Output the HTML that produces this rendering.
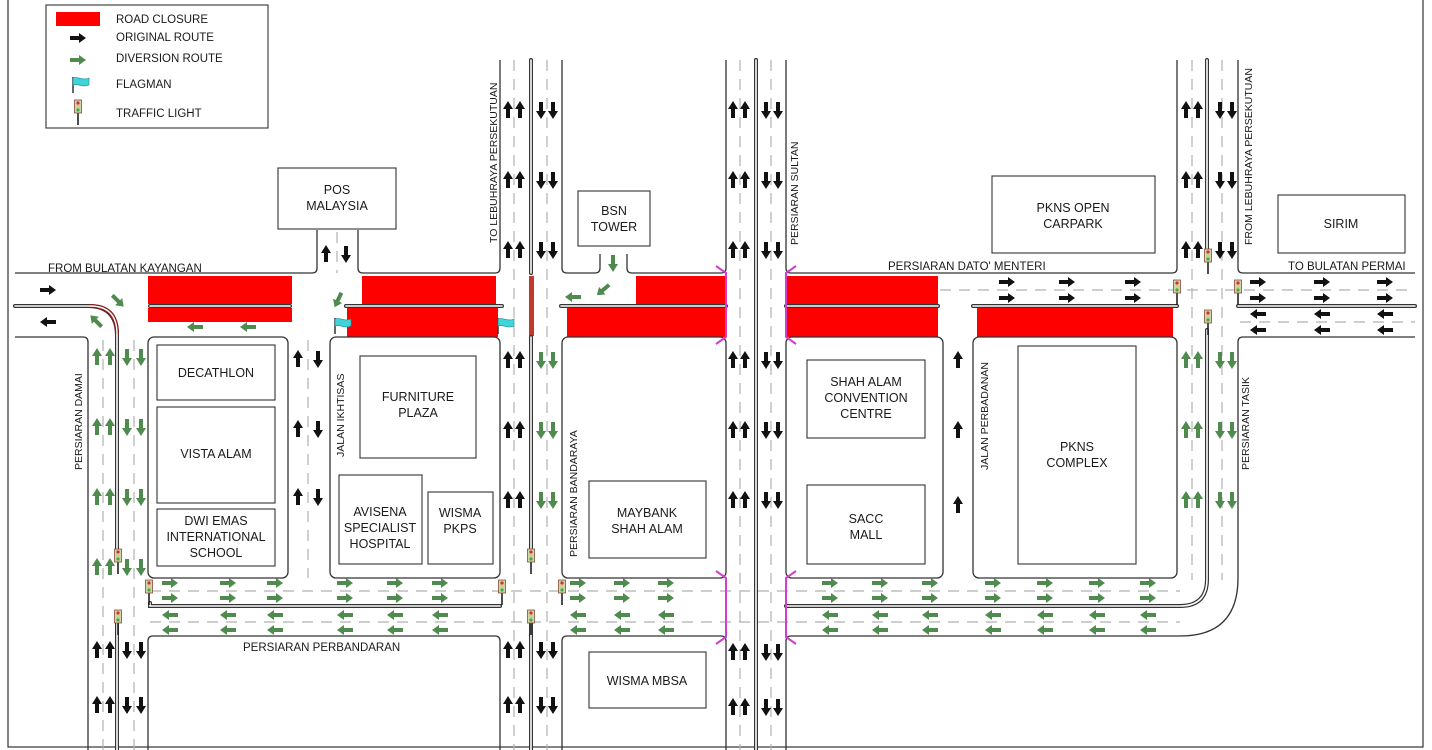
<!DOCTYPE html>
<html><head><meta charset="utf-8"><style>
html,body{margin:0;padding:0;background:#fff;}
svg{display:block;}
text{font-family:"Liberation Sans",Arial,sans-serif;fill:#1a1a1a;}
.t{font-size:12.5px;text-anchor:middle;}
.l{font-size:11.5px;}
.v{font-size:10.5px;}
.e{fill:none;stroke:#333;stroke-width:1.3;}
.d{fill:none;stroke:#b0b0b0;stroke-width:1.2;stroke-dasharray:11 8;}
.m1{fill:none;stroke:#333;stroke-width:4;stroke-linecap:round;}
.m2{fill:none;stroke:#fff;stroke-width:1.6;stroke-linecap:round;}
.b{fill:#fff;stroke:#333;stroke-width:1.1;}
.r{fill:#f00;}
.g use{fill:#4f8a4f;}
.k use{fill:#111;}
.mg{fill:none;stroke:#d23cd2;stroke-width:2;}
</style></head><body>
<svg width="1432" height="750" viewBox="0 0 1432 750" xmlns="http://www.w3.org/2000/svg">
<defs>
<path id="R" d="M-8,-2H1V-5L8,0L1,5V2H-8Z"/>
<path id="L" d="M8,-2H-1V-5L-8,0L-1,5V2H8Z"/>
<path id="U" d="M-2,8V-1H-5L0,-9L5,-1H2V8Z"/>
<path id="D" d="M-2,-8V1H-5L0,9L5,1H2V-8Z"/>
<g id="TL"><line x1="0" y1="12" x2="0" y2="24" stroke="#222" stroke-width="1.6"/><rect x="-3.5" y="-1" width="7" height="13" fill="#cfd6a8" stroke="#8a4a3a" stroke-width="0.8"/><circle cx="0" cy="2" r="1.6" fill="#c33"/><circle cx="0" cy="5.5" r="1.6" fill="#cc9"/><circle cx="0" cy="9" r="1.6" fill="#4a4"/></g>
<g id="FL"><line x1="0" y1="0" x2="0" y2="16" stroke="#333" stroke-width="1.5"/><path d="M0,1 C5,-1 9,4 16,1 L16,8 C9,11 5,6 0,8Z" fill="#3fd4d8" stroke="#1a8a9a" stroke-width="0.6"/></g>
</defs>
<rect x="8" y="-2" width="1415" height="749" fill="none" stroke="#333" stroke-width="1.2"/>

<rect class="r" x="148" y="276" width="144" height="28"/>
<rect class="r" x="148" y="308" width="144" height="14"/>
<rect class="r" x="362" y="276" width="134" height="28"/>
<rect class="r" x="347" y="308" width="151" height="29"/>
<rect x="529" y="276" width="5" height="60" fill="#c0392b"/>
<rect class="r" x="636" y="276" width="90" height="28"/>
<rect class="r" x="567" y="308" width="159" height="29"/>
<rect class="r" x="786" y="276" width="152" height="28"/>
<rect class="r" x="786" y="308" width="152" height="29"/>
<rect class="r" x="977" y="308" width="196" height="29"/>

<g class="d">
<line x1="940" y1="290" x2="1415" y2="290"/><line x1="1240" y1="322" x2="1415" y2="322"/>
<line x1="150" y1="591" x2="1180" y2="591"/><line x1="150" y1="622" x2="1180" y2="622"/>
<line x1="103" y1="340" x2="103" y2="750"/><line x1="134" y1="340" x2="134" y2="750"/>
<line x1="308" y1="340" x2="308" y2="578"/><line x1="337" y1="232" x2="337" y2="273"/>
<line x1="514" y1="60" x2="514" y2="750"/><line x1="547" y1="60" x2="547" y2="750"/>
<line x1="740" y1="60" x2="740" y2="750"/><line x1="771" y1="60" x2="771" y2="750"/>
<line x1="1192" y1="60" x2="1192" y2="580"/><line x1="1222" y1="60" x2="1222" y2="580"/>
</g>

<g class="e">
<path d="M15,273H312Q317,273 317,268V230"/>
<path d="M358,230V268Q358,273 363,273H495Q500,273 500,268V60"/>
<path d="M562,60V268Q562,273 567,273H595Q600,273 600,268V254"/>
<path d="M627,254V268Q627,273 632,273H721Q726,273 726,268V60"/>
<path d="M786,60V268Q786,273 791,273H1172Q1177,273 1177,268V60"/>
<path d="M1238,60V268Q1238,273 1243,273H1415"/>
<path d="M15,337H83Q88,337 88,342V750"/>
<path d="M1415,337H1243Q1238,337 1238,342V578Q1238,636 1180,636H791Q786,636 786,641V750"/>
<rect x="148" y="337" width="140" height="241" rx="6"/>
<rect x="330" y="337" width="170" height="241" rx="6"/>
<rect x="562" y="337" width="164" height="241" rx="6"/>
<rect x="786" y="337" width="157" height="241" rx="6"/>
<rect x="973" y="337" width="204" height="241" rx="6"/>
<path d="M148,750V641Q148,636 153,636H495Q500,636 500,641V750"/>
<path d="M562,750V641Q562,636 567,636H721Q726,636 726,641V750"/>
</g>

<g>
<path class="m1" d="M15,306H88Q117,306 117,336V560"/>
<path class="m2" d="M15,306H88Q117,306 117,336V560"/>
<path d="M90,306Q117,306 117,334" fill="none" stroke="#8b1a1a" stroke-width="4"/>
<path d="M90,306Q117,306 117,334" fill="none" stroke="#fff" stroke-width="1.4"/>
<path class="m1" d="M117,620V750"/><path class="m2" d="M117,620V750"/>
<path class="m1" d="M150,306H290M346,306H502M561,306H726M786,306H938M973,306H1177M1238,306H1415"/>
<path class="m2" d="M150,306H290M346,306H502M561,306H726M786,306H938M973,306H1177M1238,306H1415"/>
<path class="m1" d="M531,60V273M531,337V560M531,620V750M756,60V750M1207,60V255M1207,330V579Q1207,606 1180,606H786M150,603V606H500"/>
<path class="m2" d="M531,60V273M531,337V560M531,620V750M756,60V750M1207,60V255M1207,330V579Q1207,606 1180,606H786M150,603V606H500"/>
</g>

<g class="mg">
<path d="M716,266L726,273V337L716,344"/><path d="M796,266L786,273V337L796,344"/>
<path d="M716,571L726,578V637L716,644"/><path d="M796,571L786,578V637L796,644"/>
</g>

<g class="b">
<rect x="278" y="168" width="118" height="61"/>
<rect x="578" y="191" width="72" height="55"/>
<rect x="992" y="176" width="163" height="77"/>
<rect x="1278" y="195" width="127" height="58"/>
<rect x="157" y="345" width="118" height="55"/>
<rect x="157" y="407" width="118" height="96"/>
<rect x="157" y="509" width="118" height="57"/>
<rect x="360" y="356" width="116" height="102"/>
<rect x="339" y="475" width="83" height="89"/>
<rect x="428" y="492" width="65" height="72"/>
<rect x="589" y="481" width="117" height="77"/>
<rect x="807" y="360" width="118" height="78"/>
<rect x="807" y="485" width="118" height="79"/>
<rect x="1018" y="346" width="118" height="218"/>
<rect x="589" y="652" width="117" height="56"/>
</g>
<g>
<text class="t" x="337" y="194">POS</text><text class="t" x="337" y="210">MALAYSIA</text>
<text class="t" x="614" y="215">BSN</text><text class="t" x="614" y="231">TOWER</text>
<text class="t" x="1073" y="212">PKNS OPEN</text><text class="t" x="1073" y="228">CARPARK</text>
<text class="t" x="1341" y="228">SIRIM</text>
<text class="t" x="216" y="377">DECATHLON</text>
<text class="t" x="216" y="458">VISTA ALAM</text>
<text class="t" x="216" y="525">DWI EMAS</text><text class="t" x="216" y="541">INTERNATIONAL</text><text class="t" x="216" y="557">SCHOOL</text>
<text class="t" x="418" y="401">FURNITURE</text><text class="t" x="418" y="417">PLAZA</text>
<text class="t" x="380" y="516">AVISENA</text><text class="t" x="380" y="532">SPECIALIST</text><text class="t" x="380" y="548">HOSPITAL</text>
<text class="t" x="460" y="517">WISMA</text><text class="t" x="460" y="533">PKPS</text>
<text class="t" x="647" y="517">MAYBANK</text><text class="t" x="647" y="533">SHAH ALAM</text>
<text class="t" x="866" y="386">SHAH ALAM</text><text class="t" x="866" y="402">CONVENTION</text><text class="t" x="866" y="418">CENTRE</text>
<text class="t" x="866" y="523">SACC</text><text class="t" x="866" y="539">MALL</text>
<text class="t" x="1077" y="451">PKNS</text><text class="t" x="1077" y="467">COMPLEX</text>
<text class="t" x="647" y="685">WISMA MBSA</text>
<text class="l" x="48" y="272">FROM BULATAN KAYANGAN</text>
<text class="l" x="888" y="270">PERSIARAN DATO' MENTERI</text>
<text class="l" x="1288" y="270">TO BULATAN PERMAI</text>
<text class="l" x="243" y="651">PERSIARAN PERBANDARAN</text>
<text class="v" transform="translate(82,470) rotate(-90)">PERSIARAN DAMAI</text>
<text class="v" transform="translate(344,457) rotate(-90)">JALAN IKHTISAS</text>
<text class="v" transform="translate(497,243) rotate(-90)">TO LEBUHRAYA PERSEKUTUAN</text>
<text class="v" transform="translate(798,245) rotate(-90)">PERSIARAN SULTAN</text>
<text class="v" transform="translate(577,557) rotate(-90)">PERSIARAN BANDARAYA</text>
<text class="v" transform="translate(988,470) rotate(-90)">JALAN PERBADANAN</text>
<text class="v" transform="translate(1252,245) rotate(-90)">FROM LEBUHRAYA PERSEKUTUAN</text>
<text class="v" transform="translate(1249,470) rotate(-90)">PERSIARAN TASIK</text>
</g>

<g class="k">
<use href="#R" x="48" y="290"/><use href="#L" x="48" y="322"/>
<use href="#R" x="1007" y="282"/><use href="#R" x="1067" y="282"/><use href="#R" x="1133" y="282"/>
<use href="#R" x="1007" y="298"/><use href="#R" x="1067" y="298"/><use href="#R" x="1133" y="298"/>
<use href="#R" x="1258" y="282"/><use href="#R" x="1322" y="282"/><use href="#R" x="1385" y="282"/>
<use href="#R" x="1258" y="298"/><use href="#R" x="1322" y="298"/><use href="#R" x="1385" y="298"/>
<use href="#L" x="1258" y="314"/><use href="#L" x="1322" y="314"/><use href="#L" x="1385" y="314"/>
<use href="#L" x="1258" y="330"/><use href="#L" x="1322" y="330"/><use href="#L" x="1385" y="330"/>
<use href="#U" x="97" y="650"/><use href="#U" x="110" y="650"/><use href="#D" x="127" y="650"/><use href="#D" x="141" y="650"/>
<use href="#U" x="97" y="705"/><use href="#U" x="110" y="705"/><use href="#D" x="127" y="705"/><use href="#D" x="141" y="705"/>
<use href="#U" x="298" y="359"/><use href="#D" x="318" y="359"/><use href="#U" x="298" y="429"/><use href="#D" x="318" y="429"/><use href="#U" x="298" y="497"/><use href="#D" x="318" y="497"/>
<use href="#U" x="326" y="254"/><use href="#D" x="346" y="254"/>
<use href="#U" x="508" y="110"/><use href="#U" x="520" y="110"/><use href="#D" x="541" y="110"/><use href="#D" x="553" y="110"/>
<use href="#U" x="508" y="180"/><use href="#U" x="520" y="180"/><use href="#D" x="541" y="180"/><use href="#D" x="553" y="180"/>
<use href="#U" x="508" y="250"/><use href="#U" x="520" y="250"/><use href="#D" x="541" y="250"/><use href="#D" x="553" y="250"/>
<use href="#U" x="508" y="360"/><use href="#U" x="520" y="360"/><use href="#U" x="508" y="430"/><use href="#U" x="520" y="430"/><use href="#U" x="508" y="500"/><use href="#U" x="520" y="500"/>
<use href="#U" x="508" y="650"/><use href="#U" x="520" y="650"/><use href="#D" x="541" y="650"/><use href="#D" x="553" y="650"/>
<use href="#U" x="508" y="705"/><use href="#U" x="520" y="705"/><use href="#D" x="541" y="705"/><use href="#D" x="553" y="705"/>
<use href="#U" x="733" y="110"/><use href="#U" x="745" y="110"/><use href="#D" x="766" y="110"/><use href="#D" x="778" y="110"/>
<use href="#U" x="733" y="180"/><use href="#U" x="745" y="180"/><use href="#D" x="766" y="180"/><use href="#D" x="778" y="180"/>
<use href="#U" x="733" y="250"/><use href="#U" x="745" y="250"/><use href="#D" x="766" y="250"/><use href="#D" x="778" y="250"/>
<use href="#U" x="733" y="360"/><use href="#U" x="745" y="360"/><use href="#D" x="766" y="360"/><use href="#D" x="778" y="360"/>
<use href="#U" x="733" y="430"/><use href="#U" x="745" y="430"/><use href="#D" x="766" y="430"/><use href="#D" x="778" y="430"/>
<use href="#U" x="733" y="500"/><use href="#U" x="745" y="500"/><use href="#D" x="766" y="500"/><use href="#D" x="778" y="500"/>
<use href="#U" x="733" y="652"/><use href="#U" x="745" y="652"/><use href="#D" x="766" y="652"/><use href="#D" x="778" y="652"/>
<use href="#U" x="733" y="707"/><use href="#U" x="745" y="707"/><use href="#D" x="766" y="707"/><use href="#D" x="778" y="707"/>
<use href="#U" x="958" y="360"/><use href="#U" x="958" y="430"/><use href="#U" x="958" y="505"/>
<use href="#U" x="1186" y="110"/><use href="#U" x="1198" y="110"/><use href="#D" x="1220" y="110"/><use href="#D" x="1232" y="110"/>
<use href="#U" x="1186" y="180"/><use href="#U" x="1198" y="180"/><use href="#D" x="1220" y="180"/><use href="#D" x="1232" y="180"/>
<use href="#U" x="1186" y="250"/><use href="#U" x="1198" y="250"/><use href="#D" x="1220" y="250"/><use href="#D" x="1232" y="250"/>
</g>

<g class="g">
<use href="#U" x="97" y="357"/><use href="#U" x="110" y="357"/><use href="#D" x="127" y="357"/><use href="#D" x="141" y="357"/>
<use href="#U" x="97" y="427"/><use href="#U" x="110" y="427"/><use href="#D" x="127" y="427"/><use href="#D" x="141" y="427"/>
<use href="#U" x="97" y="497"/><use href="#U" x="110" y="497"/><use href="#D" x="127" y="497"/><use href="#D" x="141" y="497"/>
<use href="#U" x="97" y="567"/><use href="#U" x="110" y="567"/><use href="#D" x="127" y="567"/><use href="#D" x="141" y="567"/>
<use href="#D" x="541" y="360"/><use href="#D" x="553" y="360"/><use href="#D" x="541" y="430"/><use href="#D" x="553" y="430"/><use href="#D" x="541" y="500"/><use href="#D" x="553" y="500"/>
<use href="#U" x="1186" y="360"/><use href="#U" x="1198" y="360"/><use href="#D" x="1220" y="360"/><use href="#D" x="1232" y="360"/>
<use href="#U" x="1186" y="430"/><use href="#U" x="1198" y="430"/><use href="#D" x="1220" y="430"/><use href="#D" x="1232" y="430"/>
<use href="#U" x="1186" y="500"/><use href="#U" x="1198" y="500"/><use href="#D" x="1220" y="500"/><use href="#D" x="1232" y="500"/>
<use href="#L" x="195" y="327"/><use href="#L" x="248" y="327"/>
<use href="#L" x="573" y="297"/><use href="#D" x="613" y="263"/>
<use href="#R" transform="translate(118,301) rotate(45)"/>
<use href="#R" transform="translate(96,321) rotate(-135)"/>
<use href="#R" transform="translate(338,300) rotate(115)"/>
<use href="#R" transform="translate(603,290) rotate(140)"/>
<use href="#R" x="170" y="583"/><use href="#R" x="228" y="583"/><use href="#R" x="275" y="583"/><use href="#R" x="345" y="583"/><use href="#R" x="395" y="583"/><use href="#R" x="440" y="583"/>
<use href="#R" x="170" y="598"/><use href="#R" x="228" y="598"/><use href="#R" x="275" y="598"/><use href="#R" x="345" y="598"/><use href="#R" x="395" y="598"/><use href="#R" x="440" y="598"/>
<use href="#L" x="170" y="615"/><use href="#L" x="228" y="615"/><use href="#L" x="275" y="615"/><use href="#L" x="345" y="615"/><use href="#L" x="395" y="615"/><use href="#L" x="440" y="615"/>
<use href="#L" x="170" y="630"/><use href="#L" x="228" y="630"/><use href="#L" x="275" y="630"/><use href="#L" x="345" y="630"/><use href="#L" x="395" y="630"/><use href="#L" x="440" y="630"/>
<use href="#R" x="578" y="583"/><use href="#R" x="622" y="583"/><use href="#R" x="666" y="583"/>
<use href="#R" x="578" y="598"/><use href="#R" x="622" y="598"/><use href="#R" x="666" y="598"/>
<use href="#L" x="578" y="615"/><use href="#L" x="622" y="615"/><use href="#L" x="666" y="615"/>
<use href="#L" x="578" y="630"/><use href="#L" x="622" y="630"/><use href="#L" x="666" y="630"/>
<use href="#R" x="830" y="583"/><use href="#R" x="880" y="583"/><use href="#R" x="930" y="583"/><use href="#R" x="993" y="583"/><use href="#R" x="1045" y="583"/><use href="#R" x="1097" y="583"/><use href="#R" x="1148" y="583"/>
<use href="#R" x="830" y="598"/><use href="#R" x="880" y="598"/><use href="#R" x="930" y="598"/><use href="#R" x="993" y="598"/><use href="#R" x="1045" y="598"/><use href="#R" x="1097" y="598"/><use href="#R" x="1148" y="598"/>
<use href="#L" x="830" y="615"/><use href="#L" x="880" y="615"/><use href="#L" x="930" y="615"/><use href="#L" x="993" y="615"/><use href="#L" x="1045" y="615"/><use href="#L" x="1097" y="615"/><use href="#L" x="1148" y="615"/>
<use href="#L" x="830" y="630"/><use href="#L" x="880" y="630"/><use href="#L" x="930" y="630"/><use href="#L" x="993" y="630"/><use href="#L" x="1045" y="630"/><use href="#L" x="1097" y="630"/><use href="#L" x="1148" y="630"/>
</g>

<use href="#TL" x="118" y="550"/>
<use href="#TL" x="149" y="581"/>
<use href="#TL" x="502" y="581"/>
<use href="#TL" x="531" y="550"/>
<use href="#TL" x="562" y="581"/>
<use href="#TL" x="531" y="611"/>
<use href="#TL" x="118" y="611"/>
<use href="#TL" x="1208" y="250"/>
<use href="#TL" x="1177" y="281"/>
<use href="#TL" x="1238" y="281"/>
<use href="#TL" x="1208" y="311"/>
<use href="#FL" x="335" y="318"/>
<use href="#FL" x="498" y="318"/>

<rect x="46" y="5" width="222" height="123" fill="#fff" stroke="#333" stroke-width="1.1"/>
<rect x="56" y="12" width="44" height="14" fill="#f00"/>
<g class="k"><use href="#R" x="78" y="38"/></g>
<g class="g"><use href="#R" x="78" y="60"/></g>
<use href="#FL" x="73" y="77"/>
<use href="#TL" x="78" y="101"/>
<text class="l" x="116" y="23">ROAD CLOSURE</text>
<text class="l" x="116" y="41">ORIGINAL ROUTE</text>
<text class="l" x="116" y="62">DIVERSION ROUTE</text>
<text class="l" x="116" y="88">FLAGMAN</text>
<text class="l" x="116" y="117">TRAFFIC LIGHT</text>
</svg>
</body></html>
